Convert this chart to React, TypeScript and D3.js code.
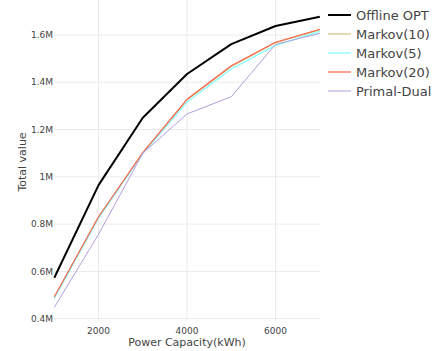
import * as d3 from 'd3';

const capacity = [1000, 2000, 3000, 4000, 5000, 6000, 7000];
const offlineOpt = [0.573e6, 0.965e6, 1.25e6, 1.435e6, 1.561e6, 1.638e6, 1.677e6];
const markov10 = [0.49e6, 0.829e6, 1.1e6, 1.325e6, 1.466e6, 1.567e6, 1.621e6];
const markov5 = [0.486e6, 0.825e6, 1.098e6, 1.316e6, 1.456e6, 1.556e6, 1.615e6];
const markov20 = [0.493e6, 0.831e6, 1.102e6, 1.328e6, 1.47e6, 1.569e6, 1.624e6];
const primalDual = [0.448e6, 0.757e6, 1.1e6, 1.266e6, 1.339e6, 1.56e6, 1.607e6];
const xTicks = [2000, 4000, 6000];
const yTicks = [0.4e6, 0.6e6, 0.8e6, 1e6, 1.2e6, 1.4e6, 1.6e6];
const yTickLabels = ['0.4M', '0.6M', '0.8M', '1M', '1.2M', '1.4M', '1.6M'];

const series = [
  { name: 'Offline OPT', values: offlineOpt, color: '#000000', width: 2 },
  { name: 'Markov(10)', values: markov10, color: '#bdb76b', width: 1 },
  { name: 'Markov(5)', values: markov5, color: '#7fffff', width: 1.2 },
  { name: 'Markov(20)', values: markov20, color: '#ff6347', width: 1.2 },
  { name: 'Primal-Dual', values: primalDual, color: '#b39ddb', width: 1 },
];

export default function App() {
  const width = 445;
  const height = 351;
  const x = d3.scaleLinear().domain([1000, 7000]).range([54.3, 319.8]);
  const y = d3.scaleLinear().domain([0.3945e6, 1.678e6]).range([320, 16.5]);
  const line = d3
    .line<number>()
    .x((_, i) => x(capacity[i]))
    .y((d) => y(d));
  const font = '"DejaVu Sans", Verdana, sans-serif';

  return (
    <svg
      width={width}
      height={height}
      style={{ position: 'absolute', left: 0, top: 0, background: '#fff' }}
      fontFamily={font}
    >
      {/* grid */}
      {xTicks.map((t) => (
        <line key={'gx' + t} x1={x(t)} x2={x(t)} y1={0} y2={321} stroke="#ebebeb" strokeWidth={1} />
      ))}
      {yTicks.map((t) => (
        <line key={'gy' + t} x1={54} x2={320} y1={y(t)} y2={y(t)} stroke="#ebebeb" strokeWidth={1} />
      ))}

      {/* lines */}
      {series.map((s) => (
        <path
          key={s.name}
          d={line(s.values) || ''}
          fill="none"
          stroke={s.color}
          strokeWidth={s.width}
          strokeLinejoin="round"
        />
      ))}

      {/* y tick labels */}
      {yTicks.map((t, i) => (
        <text key={'ty' + t} x={53} y={y(t)} dy="0.35em" textAnchor="end" fontSize={9} fill="#444">
          {yTickLabels[i]}
        </text>
      ))}
      {/* x tick labels */}
      {xTicks.map((t) => (
        <text key={'tx' + t} x={x(t)} y={334} textAnchor="middle" fontSize={9} fill="#444">
          {d3.format('d')(t)}
        </text>
      ))}

      {/* axis titles */}
      <text x={187} y={346} textAnchor="middle" fontSize={11} fill="#444">
        Power Capacity(kWh)
      </text>
      <text
        transform={`translate(26,162) rotate(-90)`}
        textAnchor="middle"
        fontSize={11}
        fill="#444"
      >
        Total value
      </text>

      {/* legend */}
      {series.map((s, i) => (
        <g key={'lg' + s.name} transform={`translate(328,${15 + i * 19})`}>
          <line x1={0} x2={23} y1={0} y2={0} stroke={s.color} strokeWidth={s.width} />
          <text x={28} y={0} dy="0.35em" fontSize={13} fill="#444">
            {s.name}
          </text>
        </g>
      ))}
    </svg>
  );
}
